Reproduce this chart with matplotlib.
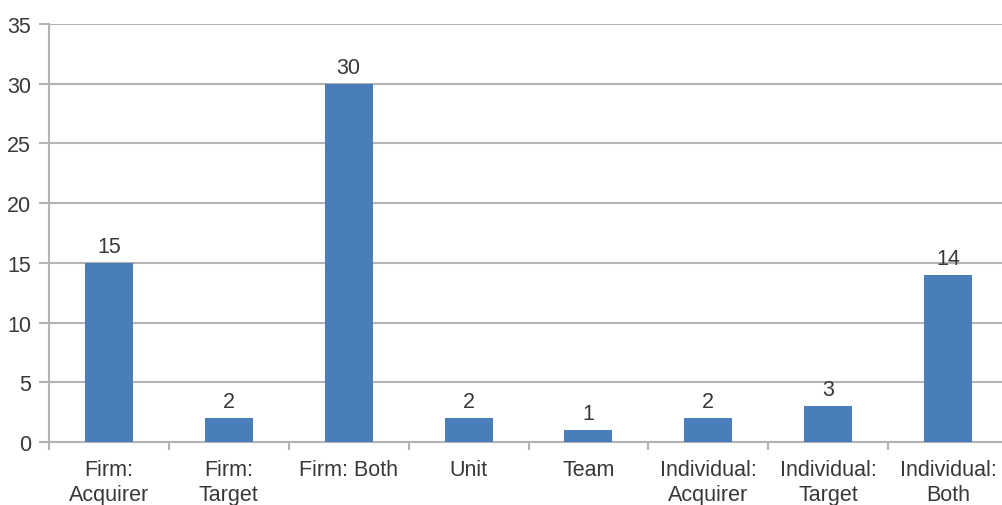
import numpy as np
import matplotlib.pyplot as plt

# level of analysis counts
categories = ["Firm:\nAcquirer", "Firm:\nTarget", "Firm: Both", "Unit", "Team",
              "Individual:\nAcquirer", "Individual:\nTarget", "Individual:\nBoth"]
counts = [15, 2, 30, 2, 1, 2, 3, 14]

plt.rcParams['font.family'] = ['Liberation Sans', 'DejaVu Sans']
text_col = '#383838'
grid_col = '#b3b3b3'
fs = 15.5

fig = plt.figure(figsize=(10.02, 5.06), dpi=100)
ax = fig.add_axes([49 / 1002, 1 - 443 / 506, 959 / 1002, 418 / 506])

x = np.arange(len(categories))
bars = ax.bar(x, counts, width=0.4, color='#4a7ebb', zorder=3)
for xi, v in zip(x, counts):
    ax.text(xi, v + 0.5, str(v), ha='center', va='bottom', fontsize=fs,
            color=text_col)

ax.set_xlim(-0.5, len(categories) - 0.5)
ax.set_ylim(0, 35)
ax.set_yticks(range(0, 36, 5))
ax.yaxis.grid(True, color=grid_col, linewidth=1.5, zorder=0)

ax.set_xticks(x)
ax.set_xticklabels(categories, fontsize=fs, color=text_col, linespacing=1.3)
ax.set_xticks(np.arange(-0.5, len(categories)), minor=True)
ax.tick_params(axis='x', which='major', length=0, pad=12)
ax.tick_params(axis='x', which='minor', length=6, width=1.5, color=grid_col)
ax.tick_params(axis='y', length=7, width=1.5, color=grid_col,
               labelsize=fs, labelcolor=text_col, pad=6)

for side in ['top', 'right']:
    ax.spines[side].set_visible(False)
for side in ['left', 'bottom']:
    ax.spines[side].set_color(grid_col)
    ax.spines[side].set_linewidth(1.5)

fig.savefig('out.png', dpi=100)
